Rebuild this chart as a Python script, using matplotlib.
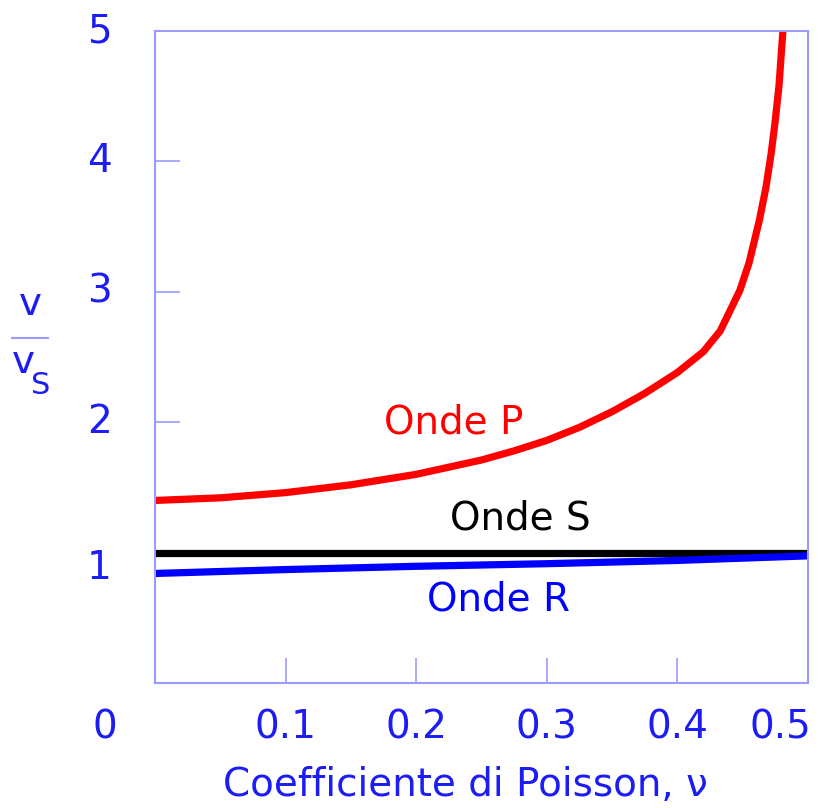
import matplotlib
matplotlib.use("Agg")
import matplotlib.pyplot as plt
from matplotlib.lines import Line2D

# Values
nu_p = [0.0, 0.05, 0.10, 0.15, 0.20, 0.25, 0.275, 0.30, 0.325, 0.35, 0.375, 0.40,
        0.42, 0.433, 0.448, 0.455, 0.463, 0.468, 0.472, 0.475, 0.478, 0.481]
ratio_p = [1.40, 1.42, 1.46, 1.52, 1.60, 1.71, 1.78, 1.86, 1.96, 2.08, 2.22, 2.38,
           2.54, 2.70, 3.01, 3.22, 3.55, 3.80, 4.06, 4.30, 4.58, 5.0]

nu_s = [0.0, 0.5]
ratio_s = [1.0, 1.0]

nu_r = [0.0, 0.1, 0.2, 0.3, 0.4, 0.5]
ratio_r = [0.84, 0.87, 0.895, 0.915, 0.94, 0.975]

xtick_vals = [0.1, 0.2, 0.3, 0.4, 0.5]
xtick_labels = ["0.1", "0.2", "0.3", "0.4", "0.5"]
ytick_vals = [1, 2, 3, 4, 5]
ytick_labels = ["1", "2", "3", "4", "5"]

blue = "#1c1cf5"
spine = "#9a9aff"
fs = 28

fig = plt.figure(figsize=(8.2, 8.08), dpi=100)
ax = fig.add_axes([0.189, 0.1547, 0.796, 0.8069])

ax.plot(nu_p, ratio_p, color="#ff0000", lw=5.2, solid_joinstyle="round",
        solid_capstyle="butt", clip_on=False)
ax.plot(nu_s, ratio_s, color="black", lw=5.2, solid_capstyle="butt")
ax.plot(nu_r, ratio_r, color="#0000ff", lw=5.2, solid_capstyle="butt")

ax.set_xlim(0, 0.5)
ax.set_ylim(0, 5)

for s in ax.spines.values():
    s.set_color(spine)
    s.set_linewidth(1.5)

ax.set_xticks(xtick_vals[:-1])
ax.set_xticklabels([])
ax.set_yticks(ytick_vals[1:-1])
ax.set_yticklabels([])
ax.tick_params(direction="in", length=18, width=1.2, color=spine)

# tick labels placed as text (reference puts them off the tick positions)
for v, lab in zip(xtick_vals, xtick_labels):
    dx = -20 if v == 0.5 else 0
    ax.annotate(lab, xy=(v, 0), xytext=(dx, -32), textcoords="offset points",
                ha="center", va="center", fontsize=fs, color=blue,
                annotation_clip=False)
for v, lab in zip(ytick_vals, ytick_labels):
    dy = -11 if v == 1 else 0
    ax.annotate(lab, xy=(0, v), xytext=(-40, dy), textcoords="offset points",
                ha="center", va="center", fontsize=fs, color=blue,
                annotation_clip=False)
ax.annotate("0", xy=(0, 0), xytext=(-36, -32), textcoords="offset points",
            ha="center", va="center", fontsize=fs, color=blue,
            annotation_clip=False)

# curve names
ax.text(0.229, 2.0, "Onde P", color="#ff0000", fontsize=fs, ha="center", va="center")
ax.text(0.280, 1.26, "Onde S", color="black", fontsize=fs, ha="center", va="center")
ax.text(0.263, 0.64, "Onde R", color="#0000ff", fontsize=fs, ha="center", va="center")

# axis titles
fig.text(0.568, 1 - 785 / 808, "Coefficiente di Poisson, \u03bd", color=blue,
         fontsize=fs, ha="center", va="center")
fig.text(30 / 820, 1 - 304 / 808, "v", color=blue, fontsize=fs, ha="center", va="center")
fig.add_artist(Line2D([12 / 820, 48 / 820], [1 - 338 / 808, 1 - 338 / 808],
                      color=spine, lw=1.5))
fig.text(23 / 820, 1 - 362 / 808, "v", color=blue, fontsize=fs, ha="center", va="center")
fig.text(41 / 820, 1 - 386 / 808, "S", color=blue, fontsize=22, ha="center", va="center")

fig.savefig("out.png", dpi=100)
